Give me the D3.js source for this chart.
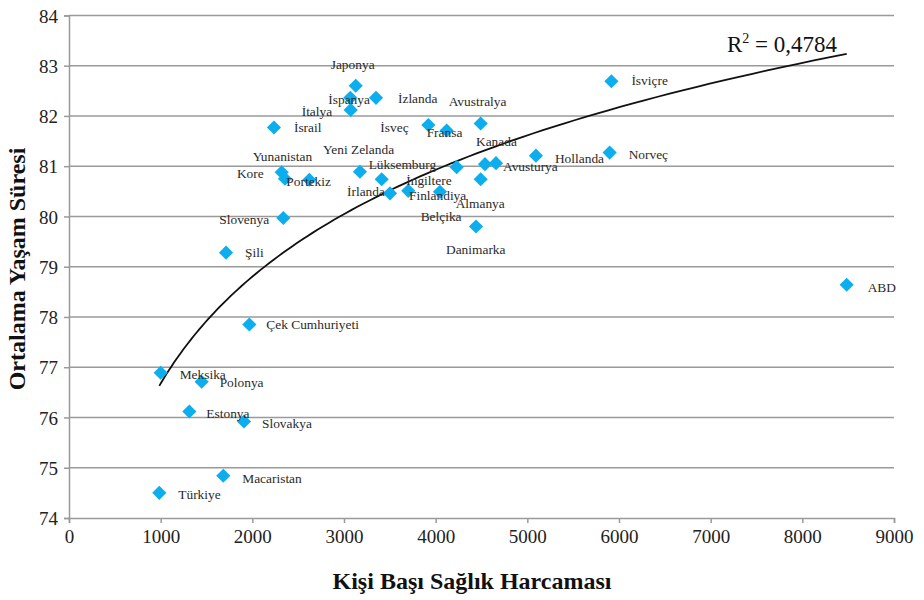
<!DOCTYPE html>
<html>
<head>
<meta charset="utf-8">
<script src="https://cdn.jsdelivr.net/npm/d3@7"></script>
<style>
body { margin: 0; background: #fff; }
svg text { font-family: "Liberation Serif", "Times New Roman", serif; }
.tick text { fill: #222; font-size: 19px; }
.pt-label { fill: #2a2a2a; font-size: 13.4px; }
.axis-title { font-weight: bold; font-size: 24px; fill: #111; }
</style>
</head>
<body>
<svg id="chart" width="924" height="600"></svg>
<script>
// countries, spending per head, life expectancy
const countries = ["Japonya", "İspanya", "İzlanda", "İtalya", "İsrail", "İsveç", "Fransa", "Avustralya",
  "Hollanda", "Kanada", "Avusturya", "Almanya", "Belçika", "Danimarka", "Finlandiya", "Yunanistan",
  "Kore", "Portekiz", "Yeni Zelanda", "Lüksemburg", "İrlanda", "İngiltere", "Slovenya", "Şili",
  "İsviçre", "Norveç", "ABD", "Çek Cumhuriyeti", "Meksika", "Polonya", "Estonya", "Slovakya",
  "Macaristan", "Türkiye"];
const spending = [3128, 3069, 3349, 3073, 2236, 3920, 4120, 4491,
  5094, 4538, 4658, 4491, 4229, 4440, 4047, 2320,
  2356, 2622, 3174, 3411, 3502, 3701, 2338, 1713,
  5917, 5898, 8484, 1967, 1000, 1447, 1313, 1909,
  1683, 985];
const lifeExp = [82.60, 82.36, 82.36, 82.12, 81.77, 81.82, 81.71, 81.85,
  81.21, 81.04, 81.06, 80.74, 80.98, 79.80, 80.49, 80.88,
  80.75, 80.73, 80.89, 80.74, 80.46, 80.51, 79.97, 79.28,
  82.69, 81.27, 78.64, 77.85, 76.89, 76.71, 76.12, 75.92,
  74.84, 74.50];
const xTicks = [0, 1000, 2000, 3000, 4000, 5000, 6000, 7000, 8000, 9000];
const yTicks = [74, 75, 76, 77, 78, 79, 80, 81, 82, 83, 84];
const r2Text = "0,4784";

// where each label sits relative to its diamond (px)
const labelOffset = {
  "Japonya": [-25, -17], "İspanya": [-22, 6], "İzlanda": [22, 5], "İtalya": [-49, 6],
  "İsrail": [20, 5], "İsveç": [-48, 7], "Fransa": [-20, 7], "Avustralya": [-32, -17],
  "Hollanda": [19, 7], "Kanada": [-9, -18], "Avusturya": [7, 8], "Almanya": [-25, 29],
  "Belçika": [-36, 54], "Danimarka": [-30, 28], "Finlandiya": [-31, 8], "Yunanistan": [-29, -11],
  "Kore": [-48, -1], "Portekiz": [-23, 6], "Yeni Zelanda": [-37, -18], "Lüksemburg": [-13, -10],
  "İrlanda": [-43, 3], "İngiltere": [-2, -6], "Slovenya": [-64, 6], "Şili": [19, 4],
  "İsviçre": [20, 4], "Norveç": [19, 6], "ABD": [21, 7], "Çek Cumhuriyeti": [17, 5],
  "Meksika": [19, 6], "Polonya": [18, 5], "Estonya": [17, 7], "Slovakya": [18, 6],
  "Macaristan": [19, 7], "Türkiye": [19, 6]
};

const data = countries.map((c, i) => ({ name: c, x: spending[i], y: lifeExp[i] }));

const svg = d3.select("#chart");
const plotLeft = 69, plotRight = 894, plotTop = 15.4, plotBottom = 518;

const x = d3.scaleLinear().domain([0, 9000]).range([plotLeft, plotRight]);
const y = d3.scaleLinear().domain([74, 84]).range([plotBottom, plotTop]);

// gridlines
svg.append("g")
  .selectAll("line")
  .data(yTicks.slice(1))
  .join("line")
  .attr("x1", plotLeft).attr("x2", plotRight)
  .attr("y1", d => y(d)).attr("y2", d => y(d))
  .attr("stroke", "#9a9a9a").attr("stroke-width", 1.5);

// axes
const gx = svg.append("g")
  .attr("transform", `translate(0,${plotBottom})`)
  .call(d3.axisBottom(x).tickValues(xTicks).tickSize(5).tickPadding(7).tickFormat(d3.format("d")));
const gy = svg.append("g")
  .attr("transform", `translate(${plotLeft},0)`)
  .call(d3.axisLeft(y).tickValues(yTicks).tickSize(5).tickPadding(6).tickFormat(d3.format("d")));
[gx, gy].forEach(g => {
  g.select(".domain").attr("stroke", "#9a9a9a").attr("stroke-width", 1.5);
  g.selectAll(".tick line").attr("stroke", "#9a9a9a").attr("stroke-width", 1.5);
  g.selectAll(".tick text").attr("font-family", null).attr("font-size", null);
});
gy.selectAll(".tick text").attr("dy", "0.35em");

// log trend: y = a ln(x) + b, least squares
const lx = spending.map(Math.log);
const mx = d3.mean(lx), my = d3.mean(lifeExp);
const a = d3.sum(lx, (v, i) => (v - mx) * (lifeExp[i] - my)) / d3.sum(lx, v => (v - mx) ** 2);
const b = my - a * mx;
const [xmin, xmax] = d3.extent(spending);
const trendPts = d3.range(0, 101).map(i => {
  const v = xmin * Math.pow(xmax / xmin, i / 100);
  return [v, a * Math.log(v) + b];
});
svg.append("path")
  .datum(trendPts)
  .attr("fill", "none")
  .attr("stroke", "#111")
  .attr("stroke-width", 1.8)
  .attr("d", d3.line().x(d => x(d[0])).y(d => y(d[1])));

// diamonds
svg.append("g")
  .selectAll("path")
  .data(data)
  .join("path")
  .attr("transform", d => `translate(${x(d.x)},${y(d.y)}) rotate(45)`)
  .attr("d", d3.symbol(d3.symbolSquare, 100))
  .attr("fill", "#0caeee");

// labels
svg.append("g")
  .selectAll("text")
  .data(data)
  .join("text")
  .attr("class", "pt-label")
  .attr("x", d => x(d.x) + labelOffset[d.name][0])
  .attr("y", d => y(d.y) + labelOffset[d.name][1])
  .text(d => d.name);

// R² annotation
const r2 = svg.append("text")
  .attr("x", 727).attr("y", 52)
  .attr("font-size", 23).attr("fill", "#111");
r2.append("tspan").text("R");
r2.append("tspan").attr("font-size", 14).attr("dy", -9).text("2");
r2.append("tspan").attr("dy", 9).text(" = " + r2Text);

// axis titles
svg.append("text")
  .attr("class", "axis-title")
  .attr("transform", "translate(25,269) rotate(-90)")
  .attr("text-anchor", "middle")
  .text("Ortalama Yaşam Süresi");
svg.append("text")
  .attr("class", "axis-title")
  .attr("x", 472).attr("y", 589)
  .attr("text-anchor", "middle")
  .text("Kişi Başı Sağlık Harcaması");
</script>
</body>
</html>
